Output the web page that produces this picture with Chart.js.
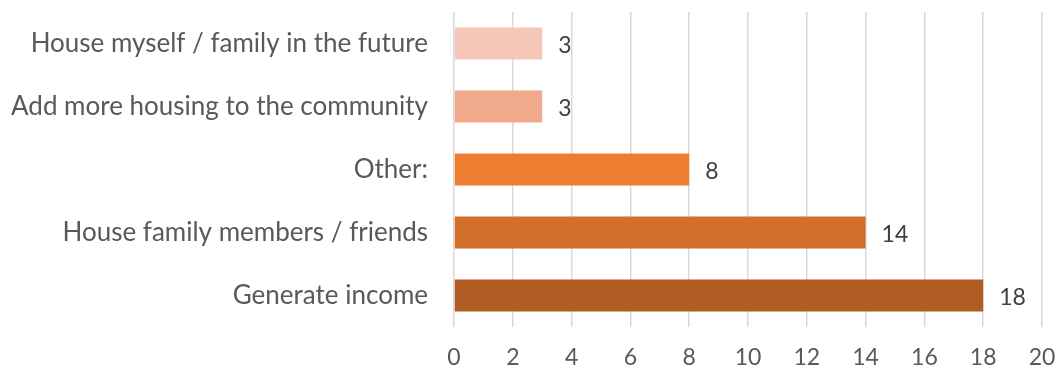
<!DOCTYPE html>
<html>
<head>
<meta charset="utf-8">
<script src="https://cdn.jsdelivr.net/npm/chart.js@4"></script>
<style>
  html, body { margin: 0; padding: 0; background: #fff; overflow: hidden; }
  canvas { display: block; }
</style>
</head>
<body>
<canvas id="reasonsChart" width="1060" height="372"></canvas>
<script>
const reasons = [
    'House myself / family in the future',
    'Add more housing to the community',
    'Other:',
    'House family members / friends',
    'Generate income'
];
const counts = [3, 3, 8, 14, 18];
const barColors = ['#F4C7B8', '#F0A98A', '#ED7D31', '#D46F2B', '#B05C22'];
const xTicks = [0, 2, 4, 6, 8, 10, 12, 14, 16, 18, 20];

// writes each bar's count just past its end
const valueLabels = {
    id: 'valueLabels',
    afterDatasetsDraw(chart) {
        const ctx = chart.ctx;
        const meta = chart.getDatasetMeta(0);
        ctx.save();
        ctx.font = '23px Lato';
        ctx.fillStyle = '#404040';
        ctx.textAlign = 'left';
        ctx.textBaseline = 'middle';
        meta.data.forEach((bar, i) => {
            ctx.fillText(String(counts[i]), bar.x + 16, bar.y + 2);
        });
        ctx.restore();
    }
};

const ctx = document.getElementById('reasonsChart').getContext('2d');
new Chart(ctx, {
    type: 'bar',
    data: {
        labels: reasons,
        datasets: [{
            data: counts,
            backgroundColor: barColors,
            barPercentage: 0.51,
            categoryPercentage: 1.0
        }]
    },
    options: {
        indexAxis: 'y',
        responsive: false,
        animation: false,
        layout: { padding: { top: 12, right: 18, left: 0, bottom: 0 } },
        plugins: {
            legend: { display: false },
            tooltip: { enabled: false }
        },
        scales: {
            x: {
                min: 0,
                max: 20,
                afterBuildTicks(axis) {
                    axis.ticks = xTicks.map(v => ({ value: v }));
                },
                afterFit(axis) {
                    axis.height = 45;
                    axis.paddingLeft = 0;
                    axis.paddingRight = 0;
                },
                grid: { color: '#D9D9D9', lineWidth: 1.5, drawTicks: false },
                border: { display: false },
                ticks: {
                    padding: 17,
                    color: '#595959',
                    font: { family: 'Lato', size: 23 }
                }
            },
            y: {
                afterFit(axis) {
                    axis.width = 454;
                    axis.paddingTop = 0;
                    axis.paddingBottom = 0;
                },
                grid: { display: false, drawTicks: false },
                border: { display: false },
                ticks: {
                    padding: 26,
                    color: '#595959',
                    font: { family: 'Lato', size: 26 }
                }
            }
        }
    },
    plugins: [valueLabels]
});
</script>
</body>
</html>
